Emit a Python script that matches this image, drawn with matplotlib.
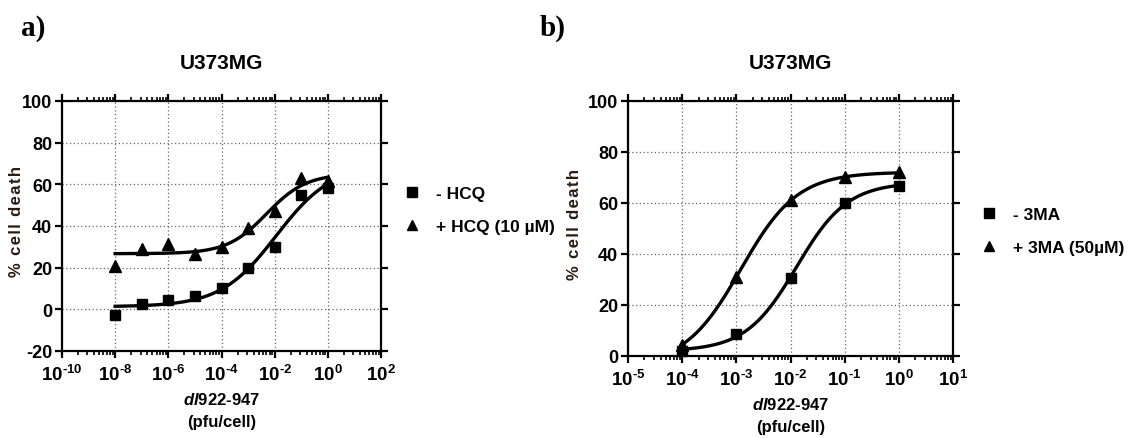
import numpy as np
import matplotlib
matplotlib.use("Agg")
import matplotlib.pyplot as plt
from matplotlib.ticker import FixedLocator, NullFormatter

plt.rcParams["font.family"] = ["Liberation Sans", "DejaVu Sans"]
plt.rcParams["font.weight"] = "bold"
plt.rcParams["mathtext.fontset"] = "custom"
plt.rcParams["mathtext.rm"] = "Liberation Sans:bold"
plt.rcParams["mathtext.it"] = "Liberation Sans:bold:italic"
plt.rcParams["mathtext.bf"] = "Liberation Sans:bold"
plt.rcParams["axes.unicode_minus"] = False

# ---- data: panel a (HCQ) ----
dose_a = [1e-8, 1e-7, 1e-6, 1e-5, 1e-4, 1e-3, 1e-2, 1e-1, 1e0]
minus_hcq = [-2.5, 2.5, 4.5, 6.5, 10.0, 20.0, 30.0, 55.0, 58.0]
plus_hcq = [21.0, 29.0, 31.5, 26.5, 30.0, 39.0, 47.0, 63.0, 61.5]

# ---- data: panel b (3MA) ----
dose_b = [1e-4, 1e-3, 1e-2, 1e-1, 1e0]
minus_3ma = [2.0, 8.5, 30.5, 60.0, 66.5]
plus_3ma = [4.5, 31.0, 61.0, 70.0, 72.0]

labels_a = ["- HCQ", "+ HCQ (10 \u00b5M)"]
labels_b = ["- 3MA", "+ 3MA (50\u00b5M)"]
title = "U373MG"
xlabel_top = r"$\mathit{dl}\text{922-947}$"
ylabel = "\u200a".join("% cell death")


def four_pl(logx, bottom, top, logec50, hill):
    return bottom + (top - bottom) / (1.0 + 10.0 ** ((logec50 - logx) * hill))


def fit_four_pl(x, y, p0, iters=400):
    """Levenberg-Marquardt fit of a 4-parameter logistic on log10(dose)."""
    logx = np.log10(np.asarray(x, float))
    y = np.asarray(y, float)
    p = np.asarray(p0, float)

    def resid(q):
        return y - four_pl(logx, *q)

    r = resid(p)
    cost = r @ r
    lam = 1e-2
    for _ in range(iters):
        J = np.empty((len(y), 4))
        base = four_pl(logx, *p)
        for j in range(4):
            h = 1e-6 * max(1.0, abs(p[j]))
            q = p.copy()
            q[j] += h
            J[:, j] = (four_pl(logx, *q) - base) / h
        A = J.T @ J
        g = J.T @ r
        try:
            step = np.linalg.solve(A + lam * np.diag(np.diag(A) + 1e-9), g)
        except np.linalg.LinAlgError:
            break
        pn = p + step
        pn[3] = np.clip(pn[3], 0.2, 3.0)
        rn = resid(pn)
        cn = rn @ rn
        if cn < cost:
            p, r, cost = pn, rn, cn
            lam *= 0.3
        else:
            lam *= 10
            if lam > 1e8:
                break
    return p


def style_axis(ax, xmin_exp, xmax_exp, step, ymin, ymax, ylab_x):
    ax.set_xscale("log")
    ax.set_xlim(10.0 ** xmin_exp, 10.0 ** xmax_exp)
    ax.set_ylim(ymin, ymax)
    majors = [10.0 ** e for e in range(xmin_exp, xmax_exp + 1, step)]
    minors = []
    for e in range(xmin_exp, xmax_exp, step):
        for k in range(2, 10):
            minors.append(10.0 ** (e + step * np.log10(k)))
    ax.xaxis.set_major_locator(FixedLocator(majors))
    ax.xaxis.set_minor_locator(FixedLocator(minors))
    ax.xaxis.set_minor_formatter(NullFormatter())
    ax.set_xticklabels([r"$10^{\text{%d}}$" % e
                        for e in range(xmin_exp, xmax_exp + 1, step)])
    ax.yaxis.set_major_locator(FixedLocator(list(range(ymin, ymax + 1, 20))))
    ax.yaxis.set_minor_locator(FixedLocator([]))
    for s in ax.spines.values():
        s.set_linewidth(1.6)
    ax.tick_params(which="major", direction="out", length=5, width=1.6,
                   labelsize=13, top=True, right=True, pad=2)
    ax.tick_params(which="minor", direction="out", length=3, width=1.2,
                   top=True, bottom=True)
    ax.tick_params(axis="x", which="major", labelsize=13.5, pad=4)
    ax.grid(True, which="major", linestyle=(0, (1, 2)), color="#666666", linewidth=0.9)
    ax.set_axisbelow(True)
    ax.set_ylabel(ylabel, fontsize=12, fontweight="bold", color="#2a1a10")
    ax.yaxis.set_label_coords(ylab_x, 0.52)
    ax.set_xlabel(xlabel_top + "\n(pfu/cell)", fontsize=12, fontweight="bold",
                  labelpad=5, linespacing=1.65)
    ax.set_title(title, fontsize=15, fontweight="bold", pad=24)


def draw_series(ax, x, y, marker, ms, label, p0):
    p = fit_four_pl(x, y, p0)
    lx = np.linspace(np.log10(min(x)), np.log10(max(x)), 300)
    ax.plot(10.0 ** lx, four_pl(lx, *p), color="black", linewidth=2.4, zorder=3)
    ax.plot(x, y, linestyle="none", marker=marker, markersize=ms, color="black",
            label=label, zorder=4, clip_on=False)


fig = plt.figure(figsize=(11.31, 4.39), dpi=100)
ax_a = fig.add_axes([0.0548, 0.1982, 0.2821, 0.5695])
ax_b = fig.add_axes([0.5553, 0.1868, 0.2873, 0.5809])

style_axis(ax_a, -10, 2, 2, -20, 100, -0.119)
draw_series(ax_a, dose_a, minus_hcq, "s", 7.5, labels_a[0], [0, 70, -2.3, 0.45])
draw_series(ax_a, dose_a, plus_hcq, "^", 8, labels_a[1], [27, 66, -2.5, 0.6])

style_axis(ax_b, -5, 1, 1, 0, 100, -0.1415)
draw_series(ax_b, dose_b, minus_3ma, "s", 7.5, labels_b[0], [0, 68, -1.8, 0.8])
draw_series(ax_b, dose_b, plus_3ma, "^", 8, labels_b[1], [0, 72, -2.7, 0.85])

for ax, anchor in ((ax_a, (0.3577, 0.519)), (ax_b, (0.8678, 0.4715))):
    ax.legend(loc="center left", bbox_to_anchor=anchor, bbox_transform=fig.transFigure,
              frameon=False, borderpad=0, borderaxespad=0, handlelength=0.9,
              handletextpad=0.9, labelspacing=1.0,
              prop={"size": 12.5, "weight": "bold"}, markerscale=0.9)

fig.text(0.019, 0.935, "a)", fontsize=21, fontweight="bold", family="Liberation Serif",
         va="center")
fig.text(0.477, 0.935, "b)", fontsize=21, fontweight="bold", family="Liberation Serif",
         va="center")

fig.savefig("out.png", dpi=100)
